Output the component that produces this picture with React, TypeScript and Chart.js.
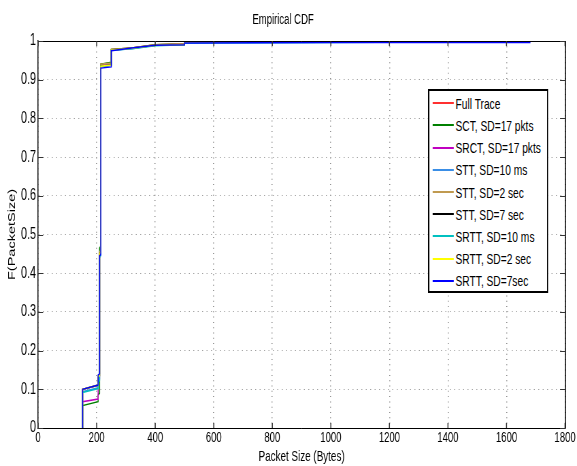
import React, { useEffect, useRef } from 'react';
import { Chart, registerables } from 'chart.js';

Chart.register(...registerables);

// Packet size breakpoints (bytes) shared by all empirical CDF curves
const packetSizes = [152, 152, 205, 205, 210, 210, 214, 214, 250, 250, 320, 400, 500, 500, 1000, 1500, 1680, 1680];

const fullTrace = [0, 0.1, 0.11, 0.13, 0.134, 0.455, 0.46, 0.94, 0.943, 0.978, 0.982, 0.99, 0.993, 0.998, 0.999, 1, 1, 1];
const sctPkts = [0, 0.058, 0.068, 0.085, 0.09, 0.465, 0.47, 0.94, 0.945, 0.978, 0.982, 0.99, 0.993, 0.999, 1, 1, 1, 1];
const srctPkts = [0, 0.068, 0.075, 0.125, 0.128, 0.45, 0.455, 0.936, 0.94, 0.977, 0.981, 0.989, 0.992, 0.998, 0.999, 1, 1, 1];
const stt10ms = [0, 0.094, 0.104, 0.12, 0.125, 0.44, 0.445, 0.935, 0.938, 0.976, 0.98, 0.989, 0.991, 0.996, 0.997, 0.999, 1, 1];
const stt2sec = [0, 0.1, 0.11, 0.13, 0.134, 0.455, 0.46, 0.94, 0.943, 0.978, 0.982, 0.99, 0.993, 0.998, 0.999, 1, 1, 1];
const stt7sec = [0, 0.1, 0.111, 0.132, 0.135, 0.45, 0.455, 0.935, 0.938, 0.977, 0.981, 0.989, 0.991, 0.997, 0.998, 1, 1, 1];
const srtt10ms = [0, 0.092, 0.102, 0.118, 0.122, 0.442, 0.447, 0.934, 0.937, 0.976, 0.98, 0.988, 0.99, 0.995, 0.996, 0.998, 1, 1];
const srtt2sec = [0, 0.1, 0.111, 0.132, 0.135, 0.45, 0.455, 0.935, 0.938, 0.977, 0.981, 0.989, 0.991, 0.997, 0.998, 1, 1, 1];
const srtt7sec = [0, 0.1, 0.111, 0.137, 0.14, 0.445, 0.448, 0.93, 0.933, 0.975, 0.982, 0.989, 0.99, 0.995, 0.996, 0.996, 0.996, 1];

const seriesValues = [fullTrace, sctPkts, srctPkts, stt10ms, stt2sec, stt7sec, srtt10ms, srtt2sec, srtt7sec];
const seriesNames = [
  'Full Trace',
  'SCT, SD=17 pkts',
  'SRCT, SD=17 pkts',
  'STT, SD=10 ms',
  'STT, SD=2 sec',
  'STT, SD=7 sec',
  'SRTT, SD=10 ms',
  'SRTT, SD=2 sec',
  'SRTT, SD=7sec',
];
const seriesColors = ['#ff3030', '#008000', '#c000c0', '#3a8ee6', '#c09a50', '#000000', '#00c0c0', '#ffff00', '#0000ff'];

const xTicks = [0, 200, 400, 600, 800, 1000, 1200, 1400, 1600, 1800];
const yTicks = [0, 0.1, 0.2, 0.3, 0.4, 0.5, 0.6, 0.7, 0.8, 0.9, 1];

const chartTitle = 'Empirical CDF';
const xTitle = 'Packet Size (Bytes)';
const yTitle = 'F(PacketSize)';

// The figure is drawn on a wider canvas and squeezed horizontally, like the original.
const VIEW_W = 577;
const VIEW_H = 466;
const INNER_W = 848;
const SX = VIEW_W / INNER_W;
const FONT = "'Liberation Sans', Arial, Helvetica, sans-serif";

if (typeof document !== 'undefined') document.body.style.margin = '0';

const frameTicks = {
  id: 'frameTicks',
  afterDatasetsDraw(chart: any) {
    const { ctx, chartArea } = chart;
    const { left, right, top, bottom } = chartArea;
    const xs = chart.scales.x;
    const ys = chart.scales.y;
    ctx.save();
    ctx.strokeStyle = '#000';
    ctx.lineWidth = 1;
    ctx.beginPath();
    ctx.moveTo(left, top + 0.5);
    ctx.lineTo(right + 0.75, top + 0.5);
    ctx.stroke();
    ctx.lineWidth = 1.5;
    ctx.beginPath();
    ctx.moveTo(right + 0.75, top);
    ctx.lineTo(right + 0.75, bottom);
    ctx.stroke();
    ctx.strokeStyle = '#333';
    ctx.lineWidth = 1.5;
    ctx.beginPath();
    const lenV = 5;
    xTicks.forEach((v) => {
      const px = xs.getPixelForValue(v);
      ctx.moveTo(px, bottom);
      ctx.lineTo(px, bottom - lenV);
      ctx.moveTo(px, top);
      ctx.lineTo(px, top + lenV);
    });
    ctx.stroke();
    ctx.lineWidth = 1;
    ctx.beginPath();
    const lenH = 5 / SX;
    yTicks.forEach((v) => {
      const py = Math.round(ys.getPixelForValue(v)) + 0.5;
      ctx.moveTo(left, py);
      ctx.lineTo(left + lenH, py);
      ctx.moveTo(right, py);
      ctx.lineTo(right - lenH, py);
    });
    ctx.stroke();
    ctx.restore();
  },
};

export default function App() {
  const canvasRef = useRef<HTMLCanvasElement | null>(null);

  useEffect(() => {
    document.body.style.margin = '0';
    const canvas = canvasRef.current;
    if (!canvas) return;
    const datasets = seriesValues.map((vals, i) => ({
      label: seriesNames[i],
      data: packetSizes.map((x, j) => ({ x, y: vals[j] })),
      borderColor: seriesColors[i],
      backgroundColor: seriesColors[i],
      borderWidth: 1.5,
      pointRadius: 0,
      tension: 0,
      fill: false,
      order: seriesValues.length - 1 - i,
    }));
    const chart = new Chart(canvas, {
      type: 'line',
      data: { datasets },
      plugins: [frameTicks],
      options: {
        animation: false,
        responsive: false,
        devicePixelRatio: 1,
        layout: { padding: { top: 0, right: 16, bottom: 0, left: 0 } },
        plugins: {
          legend: { display: false },
          tooltip: { enabled: false },
          title: {
            display: true,
            text: chartTitle,
            color: '#000',
            font: { family: FONT, size: 14, weight: 'normal' },
            padding: { top: 12, bottom: 12.2 },
          },
        },
        scales: {
          x: {
            type: 'linear',
            min: 0,
            max: 1800,
            afterBuildTicks: (scale: any) => {
              scale.ticks = xTicks.map((v) => ({ value: v }));
            },
            afterFit: (scale: any) => {
              scale.height = 38;
            },
            ticks: {
              autoSkip: false,
              maxRotation: 0,
              color: '#000',
              padding: 2,
              font: { family: FONT, size: 14 },
              callback: (v: any) => String(v),
            },
            grid: { color: '#8a8a8a', lineWidth: 1.5, drawTicks: false },
            border: { display: true, color: '#000', width: 1, dash: [1, 4.3] },
            title: {
              display: true,
              text: xTitle,
              color: '#000',
              font: { family: FONT, size: 14.5 },
              padding: { top: 0, bottom: 0 },
            },
          },
          y: {
            type: 'linear',
            min: 0,
            max: 1,
            afterBuildTicks: (scale: any) => {
              scale.ticks = yTicks.map((v) => ({ value: v }));
            },
            afterFit: (scale: any) => {
              scale.width = 56;
            },
            ticks: {
              autoSkip: false,
              color: '#000',
              padding: 3,
              font: { family: FONT, size: 16 },
              callback: (v: any) => String(Number(Number(v).toFixed(1))),
            },
            grid: { color: '#a0a0a0', lineWidth: 1, drawTicks: false },
            border: { display: true, color: '#000', width: 1.5, dash: [1.5, 5] },
            title: {
              display: true,
              text: yTitle,
              color: '#000',
              font: { family: FONT, size: 14.5 },
              padding: { top: 9.5, bottom: 0 },
            },
          },
        },
      } as any,
    });
    return () => chart.destroy();
  }, []);

  const legendLeft = 629;
  const legendTop = 89;
  const rowH = 22.2;

  return (
    <div style={{ position: 'relative', width: VIEW_W, height: VIEW_H, overflow: 'hidden', background: '#fff' }}>
      <div
        style={{
          position: 'absolute',
          left: 0,
          top: 0,
          width: INNER_W,
          height: VIEW_H,
          transform: `scaleX(${SX})`,
          transformOrigin: '0 0',
        }}
      >
        <canvas
          ref={canvasRef}
          width={INNER_W}
          height={VIEW_H}
          style={{ display: 'block', width: INNER_W, height: VIEW_H }}
        />
        <div
          style={{
            position: 'absolute',
            left: legendLeft,
            top: legendTop,
            width: 177,
            height: 204,
            borderStyle: 'solid',
            borderColor: '#000',
            borderWidth: '2px 2.5px 2px 2.5px',
            background: '#fff',
            boxSizing: 'border-box',
            fontFamily: FONT,
            fontSize: 15,
            color: '#000',
          }}
        >
          {seriesNames.map((name, i) => (
            <div
              key={name}
              style={{
                position: 'absolute',
                left: 0,
                top: 1.2 + rowH * i,
                height: rowH,
                display: 'flex',
                alignItems: 'center',
                whiteSpace: 'nowrap',
              }}
            >
              <span
                style={{
                  display: 'inline-block',
                  marginLeft: 4.5,
                  width: 31.5,
                  height: 0,
                  borderTop: `2px solid ${seriesColors[i]}`,
                  marginRight: 2.5,
                }}
              />
              <span>{name}</span>
            </div>
          ))}
        </div>
      </div>
    </div>
  );
}
